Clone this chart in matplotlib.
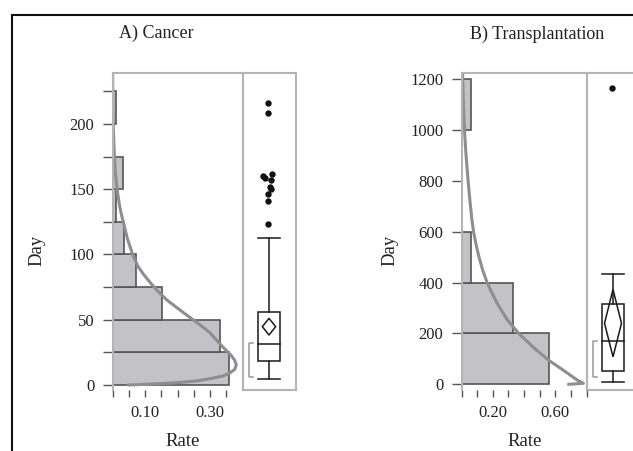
import matplotlib
matplotlib.use('Agg')
import matplotlib.pyplot as plt
from matplotlib.lines import Line2D
from matplotlib.patches import Polygon, Rectangle

# Two JMP-style distribution panels: horizontal histogram + fitted curve, box plot beside it

plt.rcParams['font.family'] = 'Liberation Serif'

# ---- A) Cancer ----
cancer_bin_start = [0, 25, 50, 75, 100, 125, 150, 175, 200]
cancer_rate = [0.358, 0.332, 0.151, 0.071, 0.035, 0.010, 0.033, 0.0, 0.010]
cancer_curve_day = [0, 0.8, 1.8, 3.2, 5.1, 7, 9, 12, 15.3, 19, 23, 29, 35, 40, 45, 50, 57,
                    65, 70, 75, 80, 85, 91, 100, 106, 112, 118, 124, 130, 137, 150, 162,
                    175, 187, 200, 215, 239]
cancer_curve_rate = [0.048, 0.12, 0.20, 0.26, 0.305, 0.34, 0.36, 0.376, 0.381, 0.376,
                     0.364, 0.34, 0.318, 0.30, 0.275, 0.248, 0.21, 0.168, 0.147, 0.128,
                     0.111, 0.095, 0.078, 0.062, 0.054, 0.046, 0.040, 0.034, 0.028, 0.022,
                     0.014, 0.009, 0.006, 0.004, 0.002, 0.001, 0.0005]
cancer_box = [4.4, 18.6, 31.7, 56, 113]          # whisker lo, q1, median, q3, whisker hi
cancer_mean_diamond = [38.3, 44.7, 51.1]         # lower, mean, upper
cancer_shortest_half = [6.4, 32.4]
cancer_outliers = [216, 208, 161.5, 160, 158.5, 157, 152, 150, 146, 141, 123]
cancer_outlier_pos = [0.49, 0.49, 0.55, 0.38, 0.43, 0.53, 0.51, 0.53, 0.49, 0.49, 0.49]

# ---- B) Transplantation ----
trans_bin_start = [0, 200, 400, 600, 800, 1000]
trans_rate = [0.557, 0.331, 0.058, 0.0, 0.0, 0.058]
trans_curve_day = [0, 4, 15, 30, 59, 95, 140, 200, 256, 319, 360, 400, 450, 505, 550,
                   600, 650, 715, 780, 846, 920, 1000, 1100, 1224]
trans_curve_rate = [0.685, 0.78, 0.745, 0.71, 0.643, 0.557, 0.47, 0.366, 0.29, 0.228,
                    0.194, 0.164, 0.135, 0.11, 0.093, 0.077, 0.066, 0.055, 0.045, 0.036,
                    0.027, 0.019, 0.012, 0.007]
trans_box = [8, 53.5, 170, 314, 432]
trans_mean_diamond = [108, 240, 373]
trans_shortest_half = [28, 172]
trans_outliers = [1163]
trans_outlier_pos = [0.49]

W, H = 633, 451
fig = plt.figure(figsize=(W / 100, H / 100), dpi=100)

FRAME = '#b4b4b4'
TXT = '#222222'
TICK = '#555555'


def px_axes(x0, x1, y_top, y_bot):
    return fig.add_axes([x0 / W, 1 - y_bot / H, (x1 - x0) / W, (y_bot - y_top) / H])


def fig_text(x, y, s, **kw):
    fig.text(x / W, 1 - y / H, s, ha='center', va='center', color=TXT, **kw)


def hist_panel(ax, starts, rates, width, cday, crate, xlim, ylim, xticks, xlabels, yticks, ylabels):
    for s, r in zip(starts, rates):
        if r > 0:
            ax.add_patch(Rectangle((0, s), r, width, facecolor='#c3c3c7',
                                   edgecolor='#555555', lw=1.2))
    ax.plot(crate, cday, color='#8e8e8e', lw=2.2, solid_capstyle='round',
            solid_joinstyle='round')
    ax.set_xlim(*xlim)
    ax.set_ylim(*ylim)
    for side in ['left', 'top', 'right']:
        ax.spines[side].set_color(FRAME)
        ax.spines[side].set_linewidth(1.5)
    ax.spines['bottom'].set_visible(False)
    ax.set_xticks(xticks)
    ax.set_xticklabels(xlabels)
    ax.set_yticks(yticks)
    ax.set_yticklabels(ylabels)
    ax.tick_params(axis='y', length=7, width=1, color=TICK, pad=6, labelsize=12, labelcolor=TXT)
    ax.tick_params(axis='x', length=5, width=1, color=TICK, pad=6, labelsize=12, labelcolor=TXT)


def box_panel(ax, ylim, box, diamond, short, outliers, opos, dw):
    ax.set_xlim(0, 1)
    ax.set_ylim(*ylim)
    ax.set_xticks([])
    ax.set_yticks([])
    for sp in ax.spines.values():
        sp.set_color(FRAME)
        sp.set_linewidth(1.5)
    lo, q1, med, q3, hi = box
    c, hw = 0.5, 0.2
    kw = dict(color='#1a1a1a', lw=1.1)
    ax.add_patch(Rectangle((c - hw, q1), 2 * hw, q3 - q1, fill=False, edgecolor='#1a1a1a', lw=1.1))
    ax.plot([c - hw, c + hw], [med, med], **kw)
    ax.plot([c, c], [lo, q1], **kw)
    ax.plot([c, c], [q3, hi], **kw)
    ax.plot([c - hw, c + hw], [lo, lo], **kw)
    ax.plot([c - hw, c + hw], [hi, hi], **kw)
    d_lo, d_mid, d_hi = diamond
    ax.add_patch(Polygon([(c, d_lo), (c + dw, d_mid), (c, d_hi), (c - dw, d_mid)],
                         closed=True, fill=False, edgecolor='#1a1a1a', lw=1.1))
    bx = 0.13
    ax.plot([bx + 0.06, bx, bx, bx + 0.06], [short[0], short[0], short[1], short[1]],
            color='#999999', lw=1.1)
    ax.plot(opos, outliers, 'o', color='#111111', ms=4.6, mec='none')


# panel A
axA = px_axes(112.5, 242.5, 73, 390)
hist_panel(axA, cancer_bin_start, cancer_rate, 25, cancer_curve_day, cancer_curve_rate,
           (0, 0.4), (-3.8, 239),
           [0, 0.05, 0.10, 0.15, 0.20, 0.25, 0.30, 0.35], ['', '', '0.10', '', '', '', '0.30', ''],
           list(range(0, 226, 25)), ['0', '', '50', '', '100', '', '150', '', '200', ''])
boxA = px_axes(242.5, 295.5, 73, 390)
box_panel(boxA, (-3.8, 239), cancer_box, cancer_mean_diamond, cancer_shortest_half,
          cancer_outliers, cancer_outlier_pos, 0.125)

# panel B
axB = px_axes(461.5, 586.5, 73, 390)
hist_panel(axB, trans_bin_start, trans_rate, 200, trans_curve_day, trans_curve_rate,
           (0, 0.8), (-22.4, 1223.7),
           [0, 0.1, 0.2, 0.3, 0.4, 0.5, 0.6, 0.7, 0.8], ['', '', '0.20', '', '', '', '0.60', '', ''],
           list(range(0, 1201, 200)), ['0', '200', '400', '600', '800', '1000', '1200'])
boxB = px_axes(586.5, 639.5, 73, 390)
box_panel(boxB, (-22.4, 1223.7), trans_box, trans_mean_diamond, trans_shortest_half,
          trans_outliers, trans_outlier_pos, 0.16)

# titles and axis labels
fig_text(156.7, 33, 'A) Cancer', fontsize=13)
fig_text(536.7, 34, 'B) Transplantation', fontsize=13)
fig_text(36.7, 250, 'Day', fontsize=13.5, rotation=90)
fig_text(390, 250, 'Day', fontsize=13.5, rotation=90)
fig_text(182.7, 441, 'Rate', fontsize=13.5)
fig_text(525, 441, 'Rate', fontsize=13.5)

# outer black frame (top and left edges)
fig.add_artist(Line2D([12 / W, 1], [1 - 15 / H, 1 - 15 / H], color='#111111', lw=1.5))
fig.add_artist(Line2D([12 / W, 12 / W], [1 - 15 / H, 0], color='#111111', lw=1.5))

fig.savefig('out.png', dpi=100)
